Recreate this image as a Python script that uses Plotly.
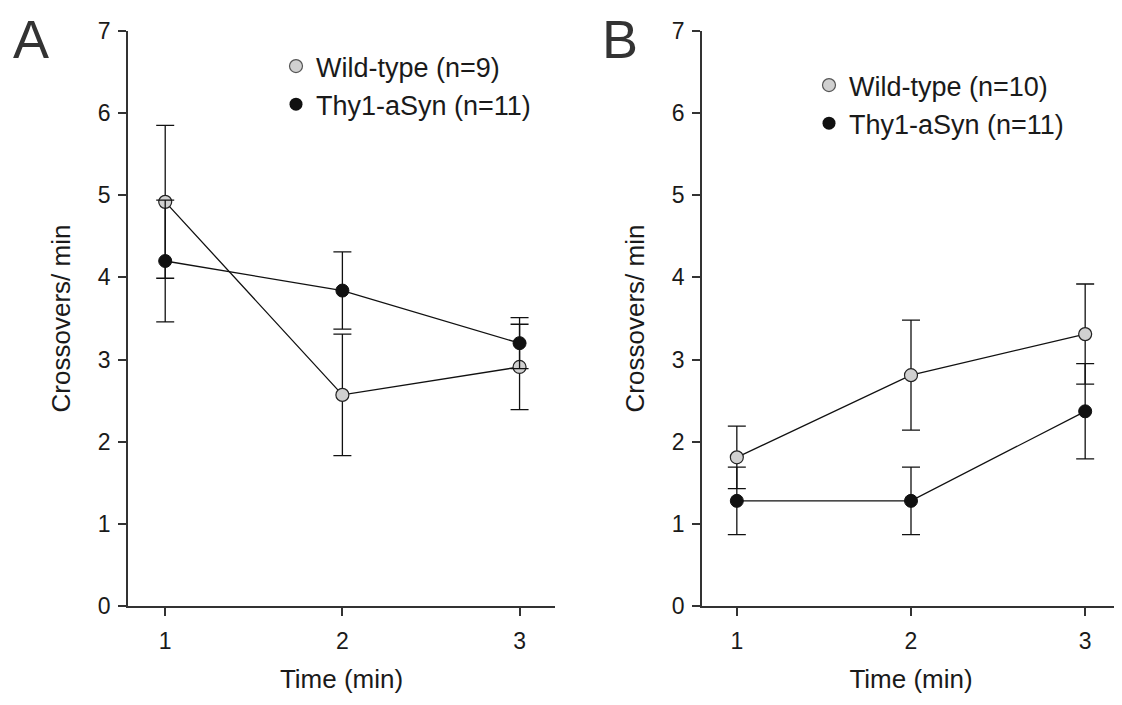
import plotly.graph_objects as go

# ---------------- data ----------------
time_min = [1, 2, 3]

# Panel A
wt_a_mean = [4.92, 2.57, 2.91]
wt_a_err = [0.93, 0.74, 0.52]
thy_a_mean = [4.20, 3.84, 3.20]
thy_a_err = [0.74, 0.47, 0.31]

# Panel B
wt_b_mean = [1.81, 2.81, 3.31]
wt_b_err = [0.38, 0.67, 0.61]
thy_b_mean = [1.28, 1.28, 2.37]
thy_b_err = [0.41, 0.41, 0.58]

y_ticks = [0, 1, 2, 3, 4, 5, 6, 7]
x_ticks = [1, 2, 3]

labels_a = ["Wild-type (n=9)", "Thy1-aSyn (n=11)"]
labels_b = ["Wild-type (n=10)", "Thy1-aSyn (n=11)"]

# ---------------- style ----------------
OFF = 8                      # default page body margin
W, H = 1122 - OFF, 705 - 2 * OFF
FONT = "Arial, Liberation Sans, Helvetica, sans-serif"
WT_FILL = "#d0d0d0"
BLACK = "#111111"
AXIS = "#333333"
TXT = "#1a1a1a"

def px_x(p):
    return (p - OFF) / W

def px_y(p):
    return 1 - (p - OFF) / H

fig = go.Figure()

def add_panel(xa, ya, wt_m, wt_e, thy_m, thy_e, labels, legend_name):
    common_err = dict(type="data", symmetric=True, color=BLACK, thickness=1.3, width=9)
    fig.add_trace(go.Scatter(
        x=time_min, y=wt_m, xaxis=xa, yaxis=ya, mode="lines+markers",
        line=dict(color=BLACK, width=1.3),
        marker=dict(size=13, color=WT_FILL, line=dict(color="#222222", width=1.2)),
        error_y=dict(array=wt_e, **common_err), showlegend=False,
    ))
    fig.add_trace(go.Scatter(
        x=time_min, y=thy_m, xaxis=xa, yaxis=ya, mode="lines+markers",
        line=dict(color=BLACK, width=1.3),
        marker=dict(size=13, color=BLACK, line=dict(color=BLACK, width=1)),
        error_y=dict(array=thy_e, **common_err), showlegend=False,
    ))
    # legend-only entries (marker symbols only)
    fig.add_trace(go.Scatter(
        x=[None], y=[None], xaxis=xa, yaxis=ya, mode="markers", name=labels[0],
        marker=dict(size=13, color=WT_FILL, line=dict(color="#555555", width=1.2)),
        legend=legend_name, showlegend=True,
    ))
    fig.add_trace(go.Scatter(
        x=[None], y=[None], xaxis=xa, yaxis=ya, mode="markers", name=labels[1],
        marker=dict(size=13, color=BLACK),
        legend=legend_name, showlegend=True,
    ))

add_panel("x", "y", wt_a_mean, wt_a_err, thy_a_mean, thy_a_err, labels_a, "legend")
add_panel("x2", "y2", wt_b_mean, wt_b_err, thy_b_mean, thy_b_err, labels_b, "legend2")

y_dom = [px_y(606), px_y(31)]

def xaxis_cfg(dom, rng):
    return dict(
        domain=dom, range=rng, tickmode="array", tickvals=x_ticks,
        showline=True, linecolor=AXIS, linewidth=1.5, ticks="outside",
        ticklen=8, tickwidth=1.5, tickcolor=AXIS, showgrid=False, zeroline=False,
        tickfont=dict(family=FONT, size=23, color=TXT),
        ticklabelstandoff=6,
        title=dict(text="Time (min)", font=dict(family=FONT, size=26, color=TXT), standoff=16),
        automargin=False, fixedrange=True,
    )

def yaxis_cfg(anchor):
    return dict(
        domain=y_dom, range=[0, 7], tickmode="array", tickvals=y_ticks,
        showline=True, linecolor=AXIS, linewidth=1.5, ticks="outside",
        ticklen=8, tickwidth=1.5, tickcolor=AXIS, showgrid=False, zeroline=False,
        tickfont=dict(family=FONT, size=23, color=TXT),
        ticklabelstandoff=3,
        title=dict(text="Crossovers/ min", font=dict(family=FONT, size=26, color=TXT), standoff=20),
        anchor=anchor, automargin=False, fixedrange=True,
    )

fig.update_layout(
    width=W, height=H,
    margin=dict(l=0, r=0, t=0, b=0),
    paper_bgcolor="white", plot_bgcolor="white",
    font=dict(family=FONT, color=TXT),
    xaxis=xaxis_cfg([px_x(128), px_x(555)], [0.79, 3.2]) | dict(anchor="y"),
    yaxis=yaxis_cfg("x"),
    xaxis2=xaxis_cfg([px_x(702), px_x(1120)], [0.8, 3.2]) | dict(anchor="y2"),
    yaxis2=yaxis_cfg("x2"),
    legend=dict(
        x=px_x(276), y=px_y(42), xanchor="left", yanchor="top",
        bgcolor="rgba(0,0,0,0)", borderwidth=0, tracegroupgap=0,
        font=dict(family=FONT, size=27, color=TXT), itemclick=False, itemdoubleclick=False,
    ),
    legend2=dict(
        x=px_x(809), y=px_y(61), xanchor="left", yanchor="top",
        bgcolor="rgba(0,0,0,0)", borderwidth=0, tracegroupgap=0,
        font=dict(family=FONT, size=27, color=TXT), itemclick=False, itemdoubleclick=False,
    ),
    annotations=[
        dict(text="A", x=px_x(31), y=1, xref="paper", yref="paper",
             xanchor="center", yanchor="top", borderpad=0,
             showarrow=False, font=dict(family=FONT, size=54, color="#333333")),
        dict(text="B", x=px_x(620), y=1, xref="paper", yref="paper",
             xanchor="center", yanchor="top", borderpad=0,
             showarrow=False, font=dict(family=FONT, size=54, color="#333333")),
    ],
)

fig.write_html("out.html")
